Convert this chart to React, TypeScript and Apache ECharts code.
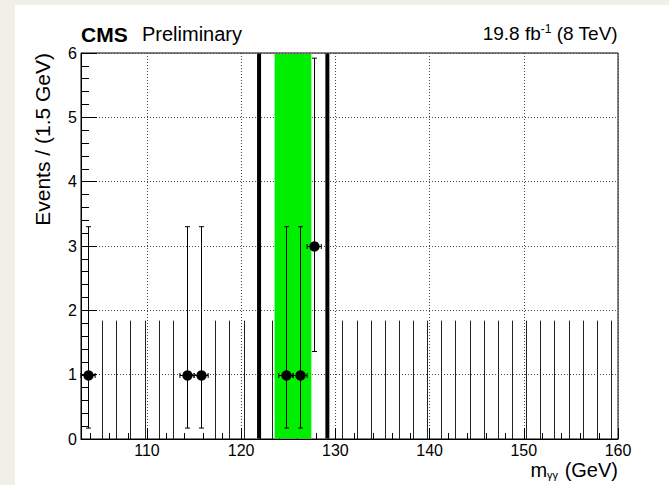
import React, { useEffect, useRef } from "react";
import * as echarts from "echarts";

// ---- data ----
const binWidth = 1.5;
const dataMass = [103.75, 114.25, 115.75, 124.75, 126.25, 127.75];
const dataEvents = [1, 1, 1, 1, 1, 3];
const dataLow = [0.17, 0.17, 0.17, 0.17, 0.17, 1.36];
const dataHigh = [3.3, 3.3, 3.3, 3.3, 3.3, 5.92];
const emptyBins = [
  105.25, 106.75, 108.25, 109.75, 111.25, 112.75, 117.25, 118.75, 120.25, 123.25,
  130.75, 132.25, 133.75, 135.25, 136.75, 138.25, 139.75, 141.25, 142.75, 144.25,
  145.75, 147.25, 148.75, 150.25, 151.75, 153.25, 154.75, 156.25, 157.75, 159.25,
];
const emptyUpper = [
  1.84, 1.84, 1.84, 1.84, 1.84, 1.84, 1.84, 1.84, 1.84, 1.84,
  1.84, 1.84, 1.84, 1.84, 1.84, 1.84, 1.84, 1.84, 1.84, 1.84,
  1.84, 1.84, 1.84, 1.84, 1.84, 1.84, 1.84, 1.84, 1.84, 1.84,
];
const signalWindow = [123.55, 127.45];
const windowEdges = [121.9, 129.15];
const xMajorTicks = [110, 120, 130, 140, 150, 160];
const xMinorTicks = [
  104, 106, 108, 112, 114, 116, 118, 122, 124, 126, 128, 132, 134, 136, 138,
  142, 144, 146, 148, 152, 154, 156, 158,
];
const xRange = [103, 160];
const yRange = [0, 6];

const FONT = "'Liberation Sans', Arial, Helvetica, sans-serif";

const gridLine = {
  show: true,
  lineStyle: { color: "#444", width: 1, type: [1, 2] as any },
};

function buildOption(): any {
  return {
    animation: false,
    backgroundColor: "transparent",
    grid: {
      left: 81,
      right: 51,
      top: 53,
      bottom: 46,
      show: true,
      borderColor: "#000",
      borderWidth: 1,
      backgroundColor: "#fff",
    },
    xAxis: [
      {
        type: "value",
        min: xRange[0],
        max: xRange[1],
        position: "bottom",
        axisLine: { show: true, onZero: false, lineStyle: { color: "#000", width: 1 } },
        axisTick: {
          show: true,
          inside: true,
          length: 11,
          customValues: xMajorTicks,
          lineStyle: { color: "#000", width: 1 },
        },
        axisLabel: {
          show: true,
          customValues: xMajorTicks,
          margin: 3,
          fontSize: 16,
          color: "#000",
          fontFamily: FONT,
        },
        splitLine: gridLine,
      },
      {
        type: "value",
        min: xRange[0],
        max: xRange[1],
        position: "bottom",
        axisLine: { show: false },
        axisTick: {
          show: true,
          inside: true,
          length: 6,
          customValues: xMinorTicks,
          lineStyle: { color: "#000", width: 1 },
        },
        axisLabel: { show: false },
        splitLine: { show: false },
      },
    ],
    yAxis: {
      type: "value",
      min: yRange[0],
      max: yRange[1],
      interval: 1,
      axisLine: { show: true, onZero: false, lineStyle: { color: "#000", width: 1 } },
      axisTick: { show: true, inside: true, length: 16, lineStyle: { color: "#000", width: 1 } },
      minorTick: { show: true, splitNumber: 5, length: 8, lineStyle: { color: "#000", width: 1 } },
      axisLabel: { margin: 4, fontSize: 16, color: "#000", fontFamily: FONT },
      splitLine: gridLine,
    },
    series: [
      {
        type: "custom",
        name: "window",
        xAxisIndex: 0,
        yAxisIndex: 0,
        z: 2,
        silent: true,
        data: [[signalWindow[0], signalWindow[1]]],
        encode: { x: [0, 1] },
        renderItem: (params: any, api: any) => {
          const cs = params.coordSys;
          const a = api.coord([api.value(0), 0]);
          const b = api.coord([api.value(1), 0]);
          return {
            type: "rect",
            shape: { x: a[0], y: cs.y + 1, width: b[0] - a[0], height: cs.height - 1.5 },
            style: { fill: "#00ee00" },
          };
        },
      },
      {
        type: "custom",
        name: "empty",
        xAxisIndex: 0,
        yAxisIndex: 0,
        z: 3,
        silent: true,
        data: emptyBins.map((m, i) => [m, emptyUpper[i]]),
        renderItem: (params: any, api: any) => {
          const p0 = api.coord([api.value(0), 0]);
          const p1 = api.coord([api.value(0), api.value(1)]);
          const x = Math.round(p0[0]) + 0.5;
          return {
            type: "line",
            shape: { x1: x, y1: p0[1], x2: x, y2: p1[1] },
            style: { stroke: "#222", lineWidth: 1 },
          };
        },
      },
      {
        type: "custom",
        name: "edges",
        xAxisIndex: 0,
        yAxisIndex: 0,
        z: 4,
        silent: true,
        data: windowEdges.map((m) => [m]),
        renderItem: (params: any, api: any) => {
          const cs = params.coordSys;
          const p = api.coord([api.value(0), 0]);
          return {
            type: "line",
            shape: { x1: p[0], y1: cs.y + 0.5, x2: p[0], y2: cs.y + cs.height - 0.5 },
            style: { stroke: "#000", lineWidth: 4 },
          };
        },
      },
      {
        type: "custom",
        name: "data",
        xAxisIndex: 0,
        yAxisIndex: 0,
        z: 5,
        silent: true,
        data: dataMass.map((m, i) => [m, dataEvents[i], dataLow[i], dataHigh[i]]),
        renderItem: (params: any, api: any) => {
          const x = api.value(0);
          const y = api.value(1);
          const c = api.coord([x, y]);
          const lo = api.coord([x, api.value(2)]);
          const hi = api.coord([x, api.value(3)]);
          const l = api.coord([x - binWidth / 2, y]);
          const r = api.coord([x + binWidth / 2, y]);
          const cx = Math.round(c[0]) + 0.5;
          const cy = Math.round(c[1]) + 0.5;
          const st = { stroke: "#000", lineWidth: 1 };
          const cap = 2.5;
          return {
            type: "group",
            children: [
              { type: "line", shape: { x1: cx, y1: lo[1], x2: cx, y2: hi[1] }, style: st },
              { type: "line", shape: { x1: cx - cap, y1: lo[1], x2: cx + cap, y2: lo[1] }, style: st },
              { type: "line", shape: { x1: cx - cap, y1: hi[1], x2: cx + cap, y2: hi[1] }, style: st },
              { type: "line", shape: { x1: l[0], y1: cy, x2: r[0], y2: cy }, style: st },
              { type: "line", shape: { x1: l[0], y1: cy - cap, x2: l[0], y2: cy + cap }, style: st },
              { type: "line", shape: { x1: r[0], y1: cy - cap, x2: r[0], y2: cy + cap }, style: st },
              { type: "circle", shape: { cx: cx, cy: cy, r: 5.2 }, style: { fill: "#000" } },
            ],
          };
        },
      },
    ],
    graphic: [
      {
        type: "text",
        left: 81,
        top: 24,
        style: { text: "CMS", fontFamily: FONT, fontWeight: "bold", fontSize: 21, fill: "#000" },
      },
      {
        type: "text",
        left: 142,
        top: 24,
        style: { text: "Preliminary", fontFamily: FONT, fontSize: 20, fill: "#000" },
      },
      {
        type: "text",
        right: 51,
        top: 23,
        style: {
          text: "19.8 fb{sup|-1} (8 TeV)",
          fontFamily: FONT,
          fontSize: 19,
          fill: "#000",
          rich: {
            sup: { fontSize: 12, verticalAlign: "top", padding: [0, 0, 8, 0], fontFamily: FONT },
          },
        },
      },
      {
        type: "text",
        x: 42,
        y: 53,
        rotation: Math.PI / 2,
        style: {
          text: "Events / (1.5 GeV)",
          fontFamily: FONT,
          fontSize: 21,
          fill: "#000",
          align: "right",
          verticalAlign: "middle",
        },
      },
      {
        type: "text",
        right: 51,
        top: 460,
        style: {
          text: "m{sub|γγ} (GeV)",
          fontFamily: FONT,
          fontSize: 20,
          fill: "#000",
          rich: {
            sub: { fontSize: 11, fontFamily: FONT, padding: [9, 1, 0, 0] },
          },
        },
      },
    ],
  };
}

export default function App() {
  const ref = useRef<HTMLDivElement>(null);
  useEffect(() => {
    document.body.style.margin = "0";
    const chart = echarts.init(ref.current!, null, { renderer: "svg" });
    chart.setOption(buildOption());
    return () => chart.dispose();
  }, []);
  return (
    <div
      style={{
        position: "relative",
        width: 669,
        height: 485,
        background: "#f2efe9",
        overflow: "hidden",
      }}
    >
      <div
        style={{ position: "absolute", left: 15, top: 5, right: 0, bottom: 0, background: "#fff" }}
      />
      <div ref={ref} style={{ position: "absolute", left: 0, top: 0, width: 669, height: 485 }} />
    </div>
  );
}
